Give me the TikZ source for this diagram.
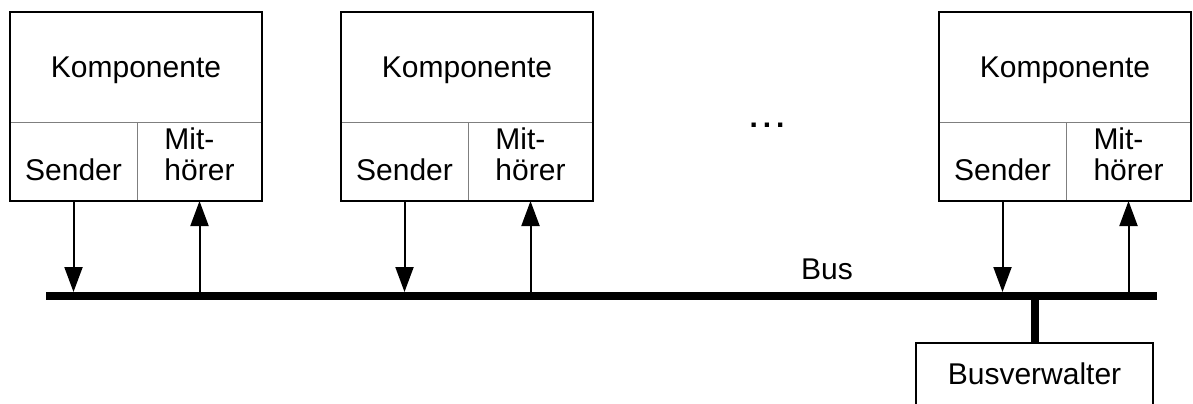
\documentclass[tikz,border=0pt]{standalone}
\usepackage{fontspec}
\setsansfont{Liberation Sans}
\usepackage{xcolor}
\definecolor{lineBlack}{HTML}{000000}
\definecolor{dividerGray}{HTML}{7F7F7F}
\usepackage{tikz}
\usetikzlibrary{
    arrows.meta,
    positioning
}
\tikzset{
    % Base style for all text nodes
    diagram base/.style={
        font=\sffamily\fontsize{15pt}{15.5pt}\selectfont,
        text=lineBlack,
        inner sep=0pt,
        outer sep=0pt,
    },
    % Upper part of a component - thin gray divider below
    component/.style={
        diagram base,
        rectangle,
        draw=dividerGray,
        line width=0.5pt,
        minimum width=126pt,
        minimum height=55pt,
        text depth=0pt,
    },
    % Lower cells (Sender / Mithoerer), text sits a bit low
    cell/.style={
        diagram base,
        rectangle,
        draw=dividerGray,
        line width=0.5pt,
        minimum height=39.5pt,
        text height=19pt,
        align=left,
    },
    sender cell/.style={
        cell,
        minimum width=63.5pt,
    },
    listener cell/.style={
        cell,
        minimum width=62.5pt,
    },
    % Thick outline round a whole component
    outer frame/.style={
        draw=lineBlack,
        line width=1pt,
    },
    % The bus itself
    bus line/.style={
        diagram base,
        rectangle,
        fill=lineBlack,
        minimum width=555.5pt,
        minimum height=4pt,
    },
    % Bus manager box
    manager/.style={
        diagram base,
        rectangle,
        draw=lineBlack,
        line width=1pt,
        minimum width=118.5pt,
        minimum height=31pt,
    },
    % Arrows between cells and bus
    arrow/.style={
        -{Triangle[length=12.5pt, width=9pt]},
        line width=1pt,
        draw=lineBlack,
    },
    % Thick link from bus to manager
    manager stem/.style={
        line width=4pt,
        draw=lineBlack,
    },
}

\begin{document}
\begin{tikzpicture}[x=0.5pt, y=-0.5pt]
    \useasboundingbox (0,0) rectangle (1193,403);

    \node (komp1) [component] at (136,67) {Komponente};
    \node (send1) [sender cell, below right=0pt and 0pt of komp1.south west] {Sender};
    \node (hoer1) [listener cell, right=0pt of send1] {Mit-\\hörer};

    \node (komp2) [component] at (467,67) {Komponente};
    \node (send2) [sender cell, below right=0pt and 0pt of komp2.south west] {Sender};
    \node (hoer2) [listener cell, right=0pt of send2] {Mit-\\hörer};

    \node (komp3) [component] at (1065,67) {Komponente};
    \node (send3) [sender cell, below right=0pt and 0pt of komp3.south west] {Sender};
    \node (hoer3) [listener cell, right=0pt of send3] {Mit-\\hörer};

    \node (dots) [diagram base] at (767,125) {\textbf{.\,.\,.}};

    \node (bus) [bus line] at (601.5,296) {};
    \node (buslabel) [diagram base] at (827,269) {Bus};
    \node (verw) [manager] at (1034.5,374) {Busverwalter};

    \draw [outer frame] (komp1.north west) rectangle (hoer1.south east);
    \draw [outer frame] (komp2.north west) rectangle (hoer2.south east);
    \draw [outer frame] (komp3.north west) rectangle (hoer3.south east);

    \draw [arrow] (send1) -- (send1 |- bus.north);
    \draw [arrow] (bus.north -| hoer1) -- (hoer1);
    \draw [arrow] (send2) -- (send2 |- bus.north);
    \draw [arrow] (bus.north -| hoer2) -- (hoer2);
    \draw [arrow] (send3) -- (send3 |- bus.north);
    \draw [arrow] (bus.north -| hoer3) -- (hoer3);

    \draw [manager stem] (bus.south -| verw) -- (verw);
\end{tikzpicture}
\end{document}
